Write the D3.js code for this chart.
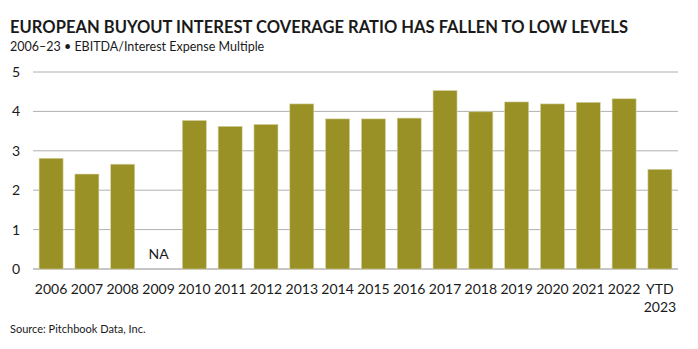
<!DOCTYPE html>
<html>
<head>
<meta charset="utf-8">
<script src="https://cdn.jsdelivr.net/npm/d3@7"></script>
<style>
  body { margin: 0; background: #fff; }
  text { font-family: Lato, "Liberation Sans", sans-serif; fill: #1a1a1a; }
</style>
</head>
<body>
<script>
// chart values
let years = ["2006","2007","2008","2009","2010","2011","2012","2013","2014","2015","2016","2017","2018","2019","2020","2021","2022","YTD 2023"]
let coverage = [2.81, 2.41, 2.66, null, 3.77, 3.62, 3.67, 4.19, 3.81, 3.81, 3.83, 4.53, 3.99, 4.24, 4.19, 4.23, 4.32, 2.53]
let yTicks = [0, 1, 2, 3, 4, 5]

let width = 698, height = 349
let plotLeft = 33, plotRight = 678, plotTop = 72, plotBottom = 269

let svg = d3.select('body')
  .append('svg')
  .attr('width', width)
  .attr('height', height)

svg.append('text')
  .attr('x', 10).attr('y', 33)
  .attr('font-size', 16.5)
  .attr('font-weight', 'bold')
  .attr('textLength', 618)
  .text('EUROPEAN BUYOUT INTEREST COVERAGE RATIO HAS FALLEN TO LOW LEVELS')

svg.append('text')
  .attr('x', 10).attr('y', 51)
  .attr('font-size', 12.5)
  .text('2006–23 • EBITDA/Interest Expense Multiple')

svg.append('text')
  .attr('x', 10).attr('y', 333)
  .attr('font-size', 11)
  .text('Source: Pitchbook Data, Inc.')

let x = d3.scaleBand()
  .domain(years)
  .range([plotLeft, plotRight])
  .paddingInner(0.33)
  .paddingOuter(0.17)

let y = d3.scaleLinear()
  .domain([0, 5])
  .range([plotBottom, plotTop])

// gridlines
svg.append('g')
  .selectAll('line')
  .data(yTicks)
  .enter()
  .append('line')
  .attr('x1', plotLeft).attr('x2', plotRight)
  .attr('y1', d => y(d)).attr('y2', d => y(d))
  .attr('stroke', d => d === 0 ? '#8c8c8c' : '#b0b0b0')
  .attr('stroke-width', 1)

svg.append('g')
  .selectAll('text')
  .data(yTicks)
  .enter()
  .append('text')
  .attr('x', 16)
  .attr('y', d => y(d) + 5)
  .attr('text-anchor', 'middle')
  .attr('font-size', 14)
  .text(d => d)

// bars
svg.append('g')
  .selectAll('rect')
  .data(years.map((d, i) => ({year: d, value: coverage[i]})).filter(d => d.value != null))
  .enter()
  .append('rect')
  .attr('x', d => x(d.year))
  .attr('y', d => y(d.value))
  .attr('width', x.bandwidth())
  .attr('height', d => y(0) - y(d.value))
  .attr('fill', '#999126')
  .attr('stroke', '#d6d3a4')
  .attr('stroke-width', 0.6)

// NA label for missing year
svg.append('g')
  .selectAll('text')
  .data(years.filter((d, i) => coverage[i] == null))
  .enter()
  .append('text')
  .attr('x', d => x(d) + x.bandwidth() / 2)
  .attr('y', 259)
  .attr('text-anchor', 'middle')
  .attr('font-size', 14)
  .text('NA')

// x labels, wrapped on space
let xl = svg.append('g')
  .selectAll('text')
  .data(years)
  .enter()
  .append('text')
  .attr('x', d => x(d) + x.bandwidth() / 2)
  .attr('y', 294)
  .attr('text-anchor', 'middle')
  .attr('font-size', 14)

xl.each(function(d) {
  let parts = d.split(' ')
  let t = d3.select(this)
  parts.forEach((p, i) => {
    t.append('tspan')
      .attr('x', x(d) + x.bandwidth() / 2)
      .attr('dy', i === 0 ? 0 : 18)
      .text(p)
  })
})
</script>
</body>
</html>
